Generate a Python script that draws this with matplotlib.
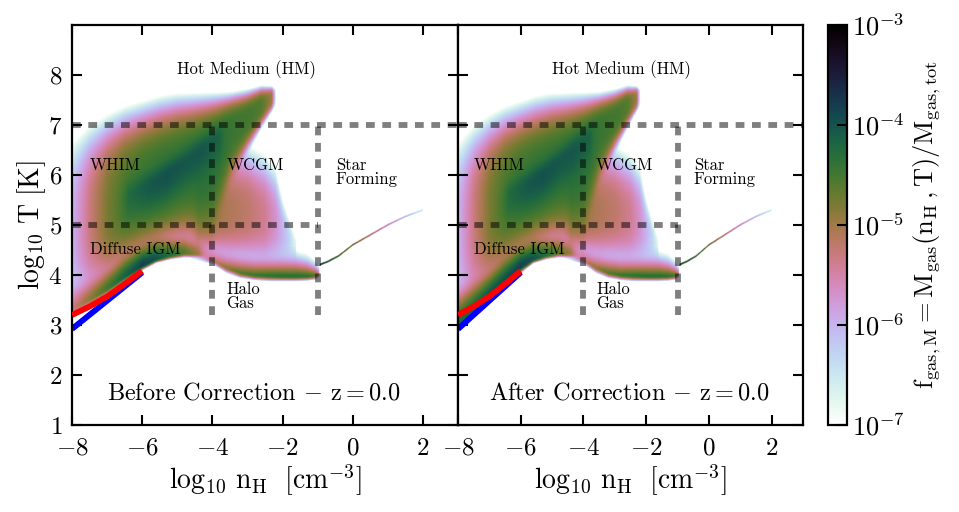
import numpy as np
import matplotlib.pyplot as plt
from matplotlib.colors import LogNorm

plt.rcParams['font.family'] = 'serif'
plt.rcParams['font.serif'] = ['cmr10']
plt.rcParams['mathtext.fontset'] = 'cm'
plt.rcParams['axes.unicode_minus'] = False
plt.rcParams['axes.formatter.use_mathtext'] = True

# ---- phase-diagram outline (log10 nH, log10 T, log10 f) ----
# main body (diffuse IGM + WHIM + hot branch)
body_x = [-8.0, -7.5, -7.0, -6.5, -6.0, -5.5, -5.0, -4.5, -4.0, -3.5, -3.0, -2.6, -2.3, -2.2]
body_lo_before = [3.15, 3.36, 3.58, 3.84, 4.08, 4.26, 4.33, 4.35, 4.3, 5.6, 6.4, 6.9, 7.25, 7.35]
body_lo_after = [2.82, 3.12, 3.42, 3.72, 4.02, 4.25, 4.33, 4.35, 4.3, 5.6, 6.4, 6.9, 7.25, 7.35]
body_mid = [4.9, 5.1, 5.3, 5.55, 5.75, 5.9, 6.1, 6.3, 6.55, 6.9, 7.15, 7.4, 7.55, 7.6]
body_hi = [6.8, 7.1, 7.3, 7.45, 7.55, 7.65, 7.7, 7.7, 7.7, 7.7, 7.75, 7.82, 7.8, 7.75]
body_peak = [-6.0, -5.3, -4.8, -4.55, -4.45, -4.4, -4.4, -4.4, -4.4, -4.45, -4.5, -4.6, -5.0, -6.5]

# darker WHIM core along the diagonal
core_x = [-7.0, -6.4, -5.8, -5.3, -4.8, -4.3, -3.8, -3.3]
core_mid = [5.3, 5.6, 5.8, 6.0, 6.25, 6.5, 6.75, 7.05]
core_peak = [-6.5, -4.6, -4.3, -4.2, -4.3, -4.3, -4.5, -6.5]

# IGM ridge along the lower edge
igm_x = [-8.0, -7.5, -7.0, -6.5, -6.0, -5.6, -5.2, -4.8, -4.4, -4.0]
igm_lo_before = [3.15, 3.36, 3.58, 3.84, 4.08, 4.23, 4.3, 4.34, 4.33, 4.28]
igm_mid_before = [3.32, 3.52, 3.74, 3.98, 4.2, 4.33, 4.4, 4.45, 4.43, 4.38]
igm_lo_after = [2.82, 3.12, 3.42, 3.72, 4.02, 4.22, 4.3, 4.34, 4.33, 4.28]
igm_mid_after = [3.0, 3.3, 3.6, 3.9, 4.18, 4.33, 4.4, 4.45, 4.43, 4.38]
igm_hi = [4.0, 4.2, 4.4, 4.7, 4.9, 5.0, 5.0, 5.0, 4.9, 4.8]
igm_peak_before = [-5.3, -4.9, -4.5, -4.15, -3.85, -4.0, -4.3, -4.6, -5.0, -6.5]
igm_peak_after = [-4.2, -4.1, -4.0, -3.95, -3.85, -4.0, -4.3, -4.6, -5.0, -6.5]

# warm circumgalactic medium
wcgm_x = [-5.0, -4.4, -4.0, -3.5, -3.0, -2.5, -2.2, -2.0, -1.8, -1.6]
wcgm_lo = [4.33, 4.3, 4.25, 4.15, 4.1, 4.05, 4.05, 4.1, 4.15, 4.2]
wcgm_mid = [5.3, 5.3, 5.3, 5.3, 5.3, 5.2, 5.1, 4.9, 4.7, 4.5]
wcgm_hi = [6.8, 7.0, 6.9, 6.85, 6.7, 6.5, 6.25, 5.6, 5.15, 4.8]
wcgm_peak = [-6.8, -5.0, -5.0, -5.1, -5.2, -5.4, -5.7, -6.0, -6.3, -6.8]

# halo gas branch at T ~ 1e4 K
halo_x = [-4.6, -4.0, -3.6, -3.2, -2.8, -2.4, -2.0, -1.6, -1.3, -1.05, -0.95]
halo_lo = [4.3, 4.2, 4.02, 3.92, 3.88, 3.86, 3.86, 3.86, 3.87, 3.89, 3.95]
halo_mid = [4.4, 4.3, 4.15, 4.05, 4.0, 3.99, 3.98, 3.98, 3.98, 3.99, 4.02]
halo_hi = [4.9, 4.8, 4.7, 4.62, 4.58, 4.56, 4.56, 4.55, 4.48, 4.32, 4.2]
halo_peak = [-6.8, -5.2, -4.9, -4.6, -4.45, -4.35, -4.3, -4.3, -4.35, -4.5, -5.2]

# star forming equation of state
sf_x = [-0.95, -0.7, -0.4, 0.0, 0.5, 1.0, 1.5, 2.0]
sf_mid = [4.2, 4.27, 4.38, 4.6, 4.8, 5.0, 5.17, 5.3]
sf_peak = [-3.8, -4.0, -4.3, -4.7, -5.1, -5.5, -6.0, -6.5]

# temperature floors
red_x = [-8.0, -7.5, -7.0, -6.5, -6.0]
red_T = [3.2, 3.37, 3.57, 3.82, 4.08]
blue_x = [-8.0, -6.0]
blue_T = [2.92, 4.05]

xg = np.linspace(-8, 3, 661)
Tg = np.linspace(1, 9, 481)
X, Y = np.meshgrid(xg, Tg)
FLOOR = -7.3


def component(xn, lo, mid, hi, peak, p_lo, p_hi):
    lo_c = np.interp(xg, xn, lo)
    mid_c = np.interp(xg, xn, mid)
    hi_c = np.interp(xg, xn, hi)
    pk = np.interp(xg, xn, peak)
    below = Y < mid_c
    u = np.where(below, (mid_c - Y) / (mid_c - lo_c), (Y - mid_c) / (hi_c - mid_c))
    p = np.where(below, p_lo, p_hi)
    u = np.clip(u, 0, None)
    val = FLOOR + (pk - FLOOR) * (1 - u ** p)
    ok = (u < 1) & (X >= xn[0]) & (X <= xn[-1])
    return np.where(ok, 10.0 ** val, 0.0)


def phase_map(body_lo, igm_lo, igm_mid, igm_peak):
    f = component(body_x, body_lo, body_mid, body_hi, body_peak, 3.2, 3.2)
    core_lo = [m - 1.1 for m in core_mid]
    core_hi = [m + 0.6 for m in core_mid]
    f += component(core_x, core_lo, core_mid, core_hi, core_peak, 2.0, 2.0)
    f += component(igm_x, igm_lo, igm_mid, igm_hi, igm_peak, 2.5, 1.5)
    f += component(wcgm_x, wcgm_lo, wcgm_mid, wcgm_hi, wcgm_peak, 3.0, 2.5)
    f += component(halo_x, halo_lo, halo_mid, halo_hi, halo_peak, 2.0, 1.0)
    sf_lo = [m - 0.03 for m in sf_mid]
    sf_hi = [m + 0.03 for m in sf_mid]
    f += component(sf_x, sf_lo, sf_mid, sf_hi, sf_peak, 3.0, 3.0)
    return np.ma.masked_less(f, 1e-7)


maps = [phase_map(body_lo_before, igm_lo_before, igm_mid_before, igm_peak_before),
        phase_map(body_lo_after, igm_lo_after, igm_mid_after, igm_peak_after)]
titles = ['Before Correction $-$ $\\mathrm{z=0.0}$', 'After Correction $-$ $\\mathrm{z=0.0}$']

cmap = plt.get_cmap('cubehelix_r').copy()
cmap.set_bad((1, 1, 1, 0))
norm = LogNorm(vmin=1e-7, vmax=1e-3)

fig = plt.figure(figsize=(9.59, 5.12), dpi=100)
ax1 = fig.add_axes([0.0751, 0.170, 0.4025, 0.78125])
ax2 = fig.add_axes([0.4776, 0.170, 0.3597, 0.78125])
cax = fig.add_axes([0.8634, 0.170, 0.0198, 0.78125])

dash = dict(color='k', alpha=0.5, lw=4.2, linestyle=(0, (1.5, 1.3)), zorder=4)
lab = dict(fontsize=12, ha='left', va='center', zorder=5)

for i, ax in enumerate([ax1, ax2]):
    im = ax.imshow(maps[i], extent=[-8, 3, 1, 9], origin='lower', aspect='auto',
                   cmap=cmap, norm=norm, interpolation='bilinear', zorder=1)
    ax.plot(blue_x, blue_T, color='#0000ff', lw=4.2, solid_capstyle='butt', zorder=2)
    ax.plot(red_x, red_T, color='#ff0000', lw=4.2, solid_capstyle='butt', zorder=3)

    ax.plot([-8, 3], [7, 7], **dash)
    ax.plot([-8, -1], [5, 5], **dash)
    ax.plot([-4, -4], [3.2, 7], **dash)
    ax.plot([-1, -1], [3.2, 7], **dash)

    ax.text(-5.0, 8.1, 'Hot Medium (HM)', **lab)
    ax.text(-7.5, 6.2, 'WHIM', **lab)
    ax.text(-3.6, 6.2, 'WCGM', **lab)
    ax.text(-0.48, 6.05, 'Star\nForming', linespacing=0.85, **lab)
    ax.text(-7.5, 4.52, 'Diffuse IGM', **lab)
    ax.text(-3.6, 3.57, 'Halo\nGas', linespacing=0.85, **lab)
    ax.text(-7.0, 1.63, titles[i], fontsize=17.5, ha='left', va='center', zorder=5)

    ax.set_xlim(-8, 3)
    ax.set_ylim(1, 9)
    ax.set_xticks([-8, -6, -4, -2, 0, 2])
    ax.set_yticks([1, 2, 3, 4, 5, 6, 7, 8])
    ax.tick_params(direction='in', length=7, width=1.5, top=True, right=True,
                   labelsize=18)
    ax.tick_params(axis='x', pad=9)
    ax.tick_params(axis='y', pad=7)
    for s in ax.spines.values():
        s.set_linewidth(1.6)
    ax.set_xlabel(r'$\log_{10}\,\mathrm{n_H}\ \ [\mathrm{cm^{-3}}]$', fontsize=20, labelpad=2)

ax1.set_ylabel(r'$\log_{10}\,\mathrm{T}\ [\mathrm{K}]$', fontsize=20, labelpad=0)
ax2.tick_params(labelleft=False)

cb = fig.colorbar(im, cax=cax, ticks=[1e-7, 1e-6, 1e-5, 1e-4, 1e-3])
cb.ax.tick_params(direction='in', length=7, width=1.5, labelsize=19, which='major')
cb.ax.tick_params(which='minor', length=0)
cb.outline.set_linewidth(1.6)
cb.set_label(r'$\mathrm{f_{gas,M}=M_{gas}(n_H\,,T)/M_{gas,tot}}$', fontsize=19, labelpad=5)

fig.savefig('out.png', dpi=100)
